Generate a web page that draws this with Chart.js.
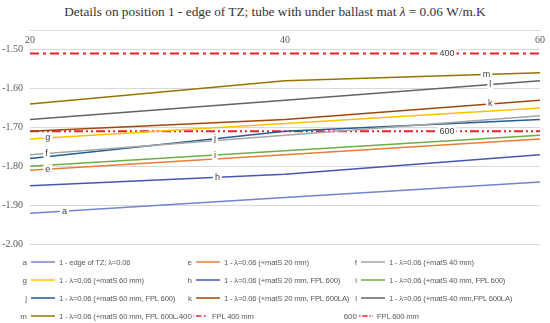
<!DOCTYPE html>
<html>
<head>
<meta charset="utf-8">
<script src="https://cdn.jsdelivr.net/npm/chart.js@4"></script>
<style>
  body { margin: 0; background: #fff; }
  #wrap { position: relative; width: 550px; height: 323px; overflow: hidden; }
  #title { position: absolute; top: 4px; left: 0; width: 550px; text-align: center;
           font: 13.3px "Liberation Serif", serif; color: #333; }
  #chart { position: absolute; top: 0; left: 0; }
  #legend { position: absolute; left: 0; top: 253px; width: 550px; }
  .item { position: absolute; height: 18px; display: flex; align-items: center;
          font: 7.7px "Liberation Sans", sans-serif; letter-spacing: -0.2px; color: #595959; white-space: nowrap; }
  .item .key { width: 24px; text-align: right; margin-right: 3px; letter-spacing: 0; font-size: 8px;
               position: relative; z-index: 1; }
  .item .key.long { margin-right: -9px; }
  .item .key b { font-weight: normal; background: #fff; padding: 0 1px; }
  .item svg { margin-right: 4px; }
</style>
</head>
<body>
<div id="wrap">
  <div id="title">Details on position 1 - edge of TZ; tube with under ballast mat <i>λ</i> = 0.06 W/m.K</div>
  <canvas id="chart" width="550" height="323"></canvas>
  <div id="legend"></div>
</div>
<script>
// x positions (mm)
const xValues = [20, 40, 60];
const yTicks = [-2.0, -1.9, -1.8, -1.7, -1.6, -1.5];

const keys = ['a', 'e', 'f', 'g', 'h', 'i', 'j', 'k', 'l', 'm', '400', '600'];
const names = [
    '1 - edge of TZ; λ=0.06',
    '1 - λ=0.06 (+matS 20 mm)',
    '1 - λ=0.06 (+matS 40 mm)',
    '1 - λ=0.06 (+matS 60 mm)',
    '1 - λ=0.06 (+matS 20 mm, FPL 600)',
    '1 - λ=0.06 (+matS 40 mm, FPL 600)',
    '1 - λ=0.06 (+matS 60 mm, FPL 600)',
    '1 - λ=0.06 (+matS 20 mm, FPL 600LA)',
    '1 - λ=0.06 (+matS 40 mm,FPL 600LA)',
    '1 - λ=0.06 (+matS 60 mm, FPL 600LA)',
    'FPL 400 mm',
    'FPL 600 mm'
];

const seriesA = [-1.92, -1.88, -1.84];
const seriesE = [-1.81, -1.77, -1.73];
const seriesF = [-1.77, -1.72, -1.67];
const seriesG = [-1.73, -1.69, -1.65];
const seriesH = [-1.85, -1.82, -1.77];
const seriesI = [-1.80, -1.76, -1.72];
const seriesJ = [-1.78, -1.71, -1.68];
const seriesK = [-1.71, -1.68, -1.63];
const seriesL = [-1.68, -1.63, -1.58];
const seriesM = [-1.64, -1.58, -1.56];
const fpl400 = [-1.51, -1.51, -1.51];
const fpl600 = [-1.71, -1.71, -1.71];

const allSeries = [seriesA, seriesE, seriesF, seriesG, seriesH, seriesI, seriesJ, seriesK, seriesL, seriesM, fpl400, fpl600];

// styling
const colors = ['#7085cc', '#ed7d31', '#a5a5a5', '#ffc000', '#4558b0', '#70ad47',
                '#255e91', '#9e480e', '#636363', '#997300', '#e8242a', '#e8242a'];
const dashes = [[], [], [], [], [], [], [], [], [], [], [9, 4, 3, 4], [9, 3, 2, 3, 2, 3]];
// where the in-line letter sits (x in mm)
const labelAt = [22.7, 21.4, 21.3, 21.4, 34.7, 34.5, 34.5, 56.1, 56.1, 55.8, 52.7, 52.7];

const lineLabels = {
    id: 'lineLabels',
    afterDatasetsDraw(chart) {
        const { ctx, scales: { x, y } } = chart;
        ctx.save();
        ctx.font = '9px "Liberation Sans", sans-serif';
        ctx.textAlign = 'center';
        ctx.textBaseline = 'middle';
        allSeries.forEach((data, i) => {
            const pos = labelAt[i];
            let k = pos < xValues[1] ? 0 : 1;
            const t = (pos - xValues[k]) / (xValues[k + 1] - xValues[k]);
            const v = data[k] + t * (data[k + 1] - data[k]);
            const px = x.getPixelForValue(pos);
            const py = y.getPixelForValue(v);
            const w = ctx.measureText(keys[i]).width + 4;
            ctx.fillStyle = '#fff';
            ctx.fillRect(px - w / 2, py - 5, w, 10);
            ctx.fillStyle = '#404040';
            ctx.fillText(keys[i], px, py);
        });
        ctx.restore();
    }
};

new Chart(document.getElementById('chart'), {
    type: 'line',
    data: {
        labels: xValues,
        datasets: allSeries.map((data, i) => ({
            label: names[i],
            data: data.map((v, j) => ({ x: xValues[j], y: v })),
            borderColor: colors[i],
            borderWidth: i >= 10 ? 2 : 1.5,
            borderDash: dashes[i],
            pointRadius: 0,
            tension: 0,
            fill: false
        }))
    },
    options: {
        responsive: false,
        animation: false,
        layout: { padding: { left: 0, right: 10, top: 30, bottom: 78.7 } },
        plugins: {
            legend: { display: false },
            tooltip: { enabled: false }
        },
        scales: {
            x: {
                type: 'linear',
                // axis sits on the top edge of the plot, labels hang below it
                position: { y: -1.45 },
                min: 20,
                max: 60,
                grid: { display: false, drawTicks: false },
                border: { display: true, color: '#d9d9d9' },
                ticks: {
                    stepSize: 20,
                    padding: 4,
                    maxRotation: 0,
                    color: '#595959',
                    font: { family: 'Liberation Serif', size: 10 }
                }
            },
            y: {
                min: -2.0,
                max: -1.45,
                grid: { color: '#d9d9d9', drawTicks: false },
                border: { display: false },
                afterBuildTicks: (s) => { s.ticks = yTicks.map(v => ({ value: v })); },
                afterFit: (s) => { s.width = 30; },
                ticks: {
                    padding: 7,
                    color: '#595959',
                    font: { family: 'Liberation Serif', size: 10 },
                    callback: (v) => v.toFixed(2)
                }
            }
        }
    },
    plugins: [lineLabels]
});

// --- Legend ---
const legend = document.getElementById('legend');
const colX = [4, 169, 334];
keys.forEach((key, i) => {
    const item = document.createElement('div');
    item.className = 'item';
    item.style.left = colX[i % 3] + 'px';
    item.style.top = (Math.floor(i / 3) * 18) + 'px';
    item.style.zIndex = i % 3;
    const dash = dashes[i].length ? dashes[i].map(d => d * 0.6).join(' ') : 'none';
    const cls = key.length > 1 ? 'key long' : 'key';
    item.innerHTML =
        `<span class="${cls}"><b>${key}</b></span>` +
        `<svg width="24" height="4"><line x1="0" y1="2" x2="24" y2="2" stroke="${colors[i]}" stroke-width="1.5" stroke-dasharray="${dash}"/></svg>` +
        `<span>${names[i]}</span>`;
    legend.appendChild(item);
});
</script>
</body>
</html>
